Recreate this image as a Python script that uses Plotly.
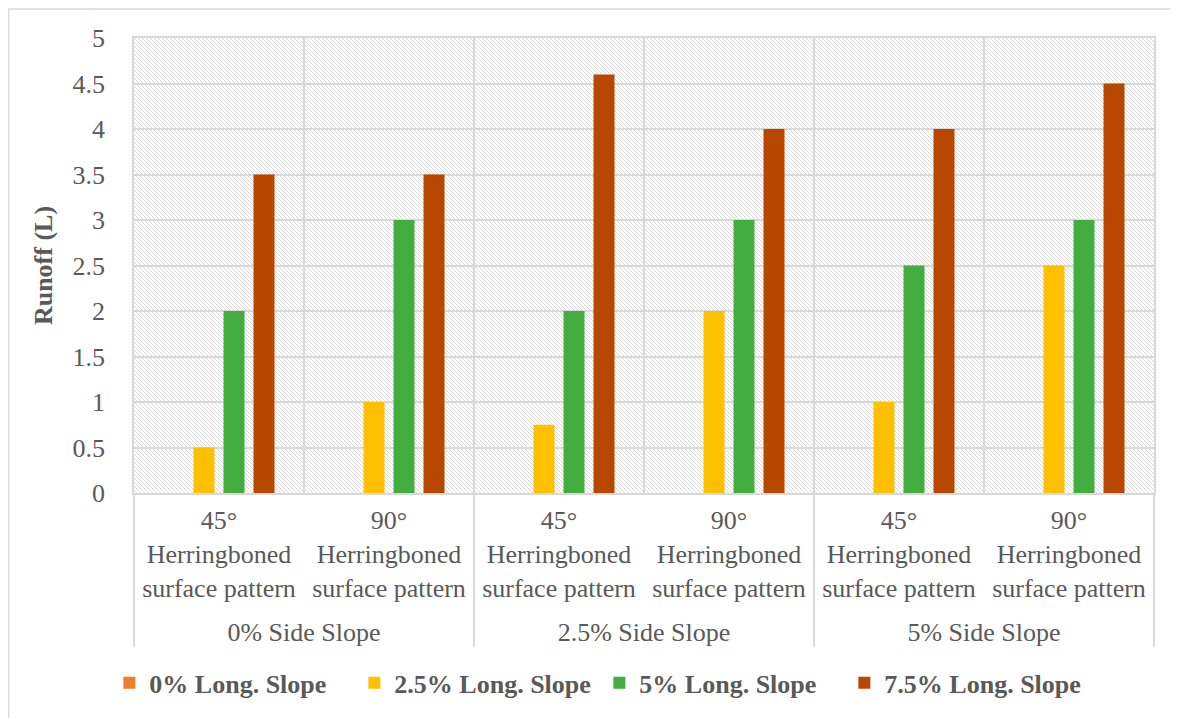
import base64
import plotly.graph_objects as go

# ---- data ----
side_slopes = ["0% Side Slope", "0% Side Slope", "2.5% Side Slope", "2.5% Side Slope",
               "5% Side Slope", "5% Side Slope"]
angles = ["45°", "90°"] * 3
pattern_name = ["Herringboned", "surface pattern"]
series_names = ["0% Long. Slope", "2.5% Long. Slope", "5% Long. Slope", "7.5% Long. Slope"]
long_0 = [0, 0, 0, 0, 0, 0]
long_25 = [0.5, 1.0, 0.75, 2.0, 1.0, 2.5]
long_5 = [2.0, 3.0, 2.0, 3.0, 2.5, 3.0]
long_75 = [3.5, 3.5, 4.6, 4.0, 4.0, 4.5]
colors = ["#F07D2C", "#FFC000", "#43AD3F", "#B84700"]

FONT = "Liberation Serif"
GRAY = "#595959"
GRID = "#D9D9D9"

# invisible tall spacer on the last label line so the group labels sit lower (as in the original)
PAD = "<span style='font-size:100px'>\u00a0</span>"
pattern_labels = [f"{a}<br>{pattern_name[0]}<br>{PAD}{pattern_name[1]}{PAD}" for a in angles]

fig = go.Figure()
for name, vals, col in zip(series_names, [long_0, long_25, long_5, long_75], colors):
    fig.add_trace(go.Bar(name=name, x=[side_slopes, pattern_labels], y=vals,
                         marker=dict(color=col, line=dict(width=0))))

# hatched plot-area background
W, H = 1020, 455
svg = (f"<svg xmlns='http://www.w3.org/2000/svg' width='{W}' height='{H}' viewBox='0 0 {W} {H}' preserveAspectRatio='none'>"
       "<defs><pattern id='p' patternUnits='userSpaceOnUse' width='4' height='4'>"
       "<path d='M-1,-1 L5,5 M-1,3 L1,5 M3,-1 L5,1' stroke='#d6d6d6' stroke-width='0.9'/>"
       "</pattern></defs>"
       f"<rect width='{W}' height='{H}' fill='white'/>"
       f"<rect width='{W}' height='{H}' fill='url(#p)'/></svg>")
uri = "data:image/svg+xml;base64," + base64.b64encode(svg.encode()).decode()

fig.update_layout(
    width=1178, height=718,
    margin=dict(l=126, r=32, t=30, b=233),
    paper_bgcolor="white",
    plot_bgcolor="rgba(0,0,0,0)",
    font=dict(family=FONT, size=26, color=GRAY),
    barmode="group",
    bargap=0.294,
    bargroupgap=0.3,
    images=[dict(source=uri, xref="paper", yref="paper", x=0, y=1, sizex=1, sizey=1,
                 xanchor="left", yanchor="top", sizing="stretch", layer="below")],
    legend=dict(orientation="h", xref="container", yref="container", x=0.502, y=0.06,
                xanchor="center", yanchor="middle",
                font=dict(family=FONT, size=26, color=GRAY, weight="bold"),
                entrywidth=200, entrywidthmode="pixels",
                itemclick=False),
    shapes=[dict(type="rect", xref="paper", yref="paper",
                 x0=-0.123, y0=-0.8, x1=1.2, y1=1.0637,
                 line=dict(color=GRID, width=1.5), layer="below")],
    xaxis=dict(type="multicategory", tickson="boundaries", showgrid=True, gridcolor=GRID,
               gridwidth=1.5, showline=True, linecolor=GRID, linewidth=1.5, mirror=True,
               showdividers=True, dividercolor=GRID, dividerwidth=1.5, tickangle=0,
               ticklabelstandoff=3, automargin=False,
               tickfont=dict(family=FONT, size=26, color=GRAY), ticks=""),
    yaxis=dict(range=[0, 5], dtick=0.5, showgrid=True, gridcolor=GRID, gridwidth=1.5,
               showline=True, linecolor=GRID, linewidth=1.5, mirror=True, zeroline=False,
               ticks="", ticklabelstandoff=22, automargin=False,
               tickfont=dict(family=FONT, size=26, color=GRAY),
               title=dict(text="<b>Runoff (L)</b>", font=dict(family=FONT, size=26, color=GRAY),
                          standoff=12)),
)

fig.write_html("out.html")
